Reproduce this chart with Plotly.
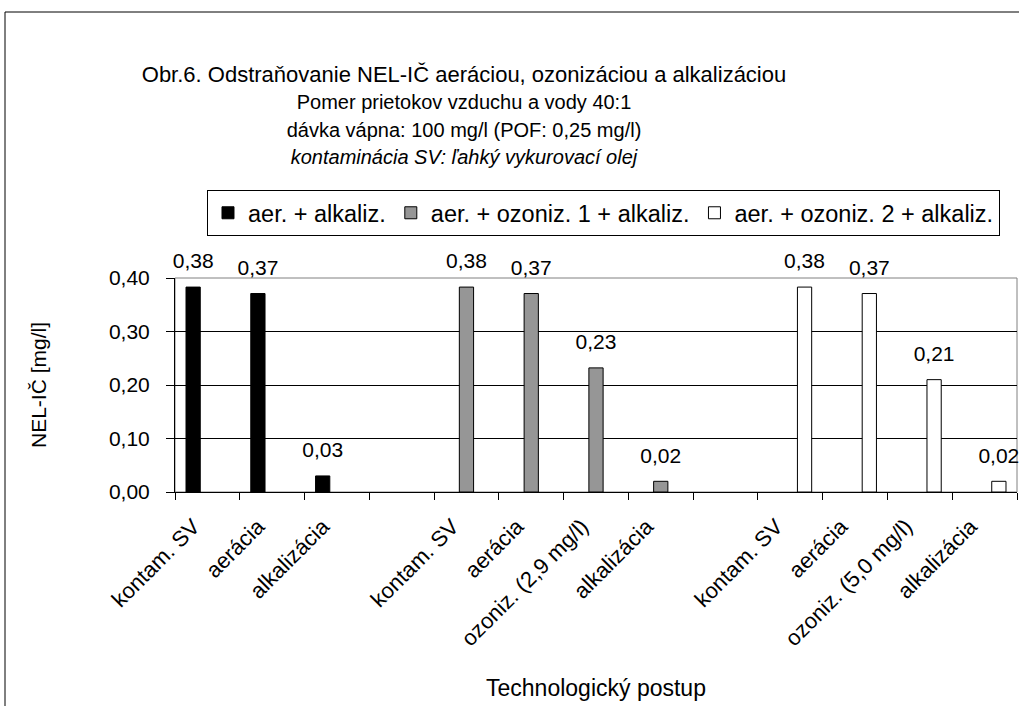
import plotly.graph_objects as go

# category labels along the x axis (blank slots separate the three runs)
categories = ["kontam. SV", "aerácia", "alkalizácia", "",
              "kontam. SV", "aerácia", "ozoniz. (2,9 mg/l)", "alkalizácia", "",
              "kontam. SV", "aerácia", "ozoniz. (5,0 mg/l)", "alkalizácia"]
keys = [str(i) for i in range(len(categories))]

# NEL-IČ [mg/l] per step, None where the series has no bar
aer_alk = [0.383, 0.371, 0.030, None,
           None, None, None, None, None,
           None, None, None, None]
aer_oz1_alk = [None, None, None, None,
               0.383, 0.371, 0.232, 0.020, None,
               None, None, None, None]
aer_oz2_alk = [None, None, None, None,
               None, None, None, None, None,
               0.383, 0.371, 0.210, 0.020]

series = [
    ("aer. + alkaliz.", aer_alk, "#000000"),
    ("aer. + ozoniz. 1 + alkaliz.", aer_oz1_alk, "#969696"),
    ("aer. + ozoniz. 2 + alkaliz.", aer_oz2_alk, "#ffffff"),
]

FONT = "Liberation Sans, Arial, sans-serif"
GAP = 0.34

fig = go.Figure()
for name, vals, color in series:
    fig.add_trace(go.Bar(
        x=keys, y=vals, name=name, offsetgroup=name,
        marker=dict(color=color, line=dict(color="black", width=1)),
        hoverinfo="skip",
    ))
for name, vals, color in series:
    # value labels, grouped like the bars and lifted a little above them
    fig.add_trace(go.Scatter(
        x=keys, y=vals, mode="markers+text", offsetgroup=name, showlegend=False,
        marker=dict(size=20, color="rgba(0,0,0,0)"),
        text=[None if v is None else f"{v:.2f}".replace(".", ",") for v in vals],
        textposition="top center",
        textfont=dict(size=21, color="black", family=FONT),
        cliponaxis=False, hoverinfo="skip",
    ))

title = ("<span style='font-size:22px'>"
         "Obr.6. Odstraňovanie NEL-IČ aeráciou, ozonizáciou a alkalizáciou</span><br>"
         "<span style='font-size:20px'>Pomer prietokov vzduchu a vody 40:1</span><br>"
         "<span style='font-size:20px'>dávka vápna: 100 mg/l (POF: 0,25 mg/l)</span><br>"
         "<span style='font-size:20px'><i>kontaminácia SV: ľahký vykurovací olej</i></span>")

fig.update_layout(
    width=1019, height=706,
    margin=dict(l=175, r=2, t=278, b=214),
    paper_bgcolor="white", plot_bgcolor="white",
    font=dict(family=FONT, size=20, color="black"),
    separators=", ",
    barmode="group", bargap=GAP, bargroupgap=0,
    scattermode="group", scattergap=GAP,
    title=dict(text=title, xref="container", x=464 / 1019, xanchor="center",
               yref="container", y=1 - 82 / 706, yanchor="top",
               font=dict(size=21, family=FONT, color="black")),
    legend=dict(orientation="h", x=0.038, xanchor="left", y=(492 - 213) / 214,
                yanchor="middle",
                bordercolor="black", borderwidth=1, bgcolor="white",
                font=dict(size=23.5, family=FONT)),
    xaxis=dict(type="category", tickmode="array", tickvals=keys, ticktext=categories,
               tickson="boundaries", ticks="outside", ticklen=7, tickcolor="black",
               tickangle=-45, tickfont=dict(size=22), ticklabelstandoff=12,
               ticklabelshift=-14,
               showline=True, linecolor="black", linewidth=1, showgrid=False,
               title=dict(text="Technologický postup", font=dict(size=23), standoff=29)),
    yaxis=dict(range=[0, 0.40], tickvals=[0, 0.1, 0.2, 0.3, 0.4], tickformat=".2f",
               ticks="outside", ticklen=8, tickcolor="black", tickfont=dict(size=21),
               ticklabelstandoff=12,
               showline=True, linecolor="black", linewidth=1,
               showgrid=True, gridcolor="black", gridwidth=1, zeroline=False,
               title=dict(text="NEL-IČ [mg/l]", font=dict(size=21), standoff=56)),
    shapes=[
        # gray plot-area frame
        dict(type="rect", xref="x domain", yref="y domain", x0=0, x1=1, y0=0, y1=1,
             line=dict(color="#808080", width=1), layer="below"),
        # outer chart frame
        dict(type="rect", xref="paper", yref="paper",
             x0=-170 / 842, x1=1.02, y0=-1.05, y1=480 / 214,
             line=dict(color="black", width=1), layer="below"),
    ],
)

fig.write_html("out.html", config={"displayModeBar": False},
               post_script="document.body.style.margin = '0';")
